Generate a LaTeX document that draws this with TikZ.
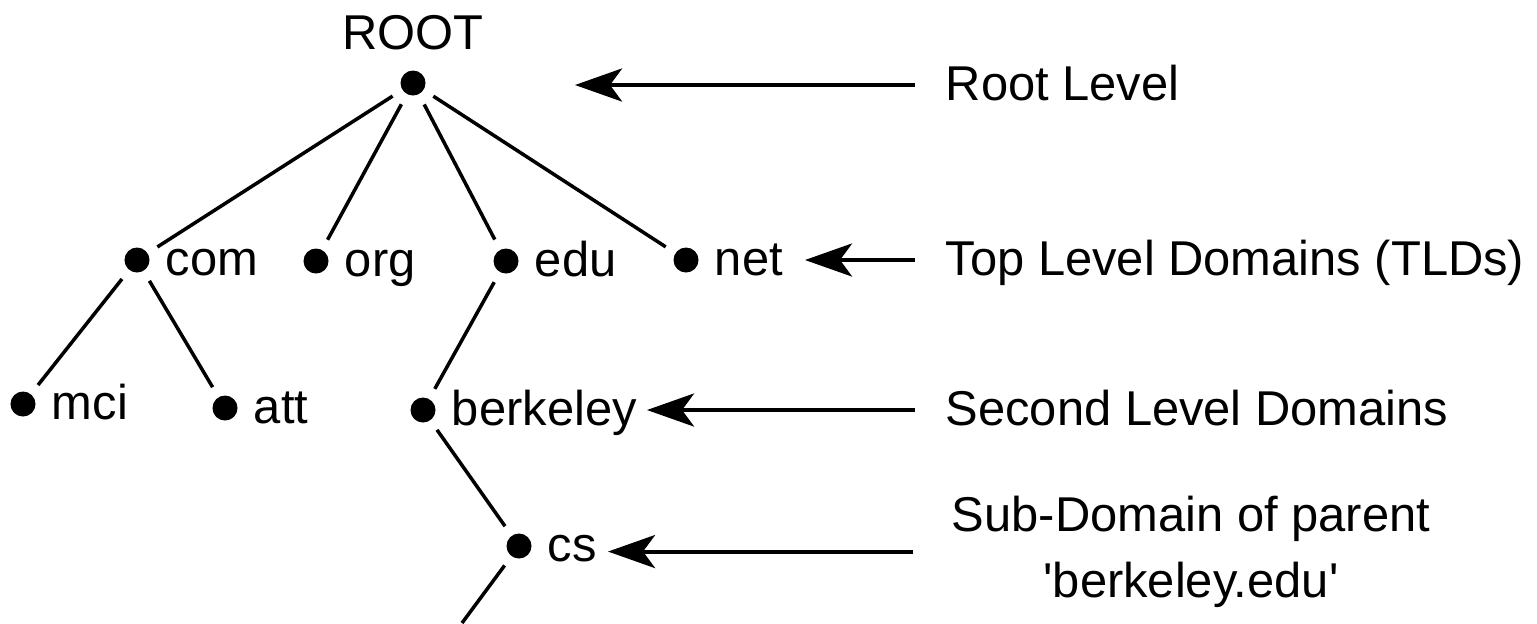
\documentclass[tikz,border=0pt]{standalone}
\usepackage{fontspec}
\setmainfont{Liberation Sans}
\usepackage{tikz}
\usetikzlibrary{arrows.meta,positioning}
\tikzstyle{treedot} = [circle, fill=black, inner sep=0pt, minimum size=0.25cm]
\tikzstyle{lbl} = [inner sep=0pt, text height=0.3cm, text depth=0pt, font=\fontsize{13.9pt}{16pt}\selectfont]
\tikzstyle{branch} = [line width=0.035cm, shorten <=0.11cm, shorten >=0.11cm]
\tikzstyle{lvlarrow} = [line width=0.04cm, -{Stealth[length=0.47cm, width=0.33cm, inset=0.12cm]}, shorten <=0.3cm]

\begin{document}
\begin{tikzpicture}[x=0.01cm, y=-0.01cm]
\useasboundingbox (0,0) rectangle (1537,623);

% Domain tree
\node[treedot] (root) at (413,83) {};
\node[lbl, above=0.2cm of root, anchor=south] (rootlbl) {ROOT};

\node[treedot] (com) at (137,260) {};
\node[treedot] (org) at (316,261) {};
\node[treedot] (edu) at (506,261) {};
\node[treedot] (net) at (686,260) {};
\node[lbl, right=0.15cm of com] (comlbl) {com};
\node[lbl, right=0.15cm of org] (orglbl) {org};
\node[lbl, right=0.15cm of edu] (edulbl) {edu};
\node[lbl, right=0.15cm of net] (netlbl) {net};

\node[treedot] (mci) at (23,404) {};
\node[treedot] (att) at (225,408) {};
\node[treedot] (berkeley) at (423,410) {};
\node[lbl, right=0.15cm of mci] (mcilbl) {mci};
\node[lbl, right=0.15cm of att] (attlbl) {att};
\node[lbl, right=0.15cm of berkeley] (berkeleylbl) {berkeley};

\node[treedot] (cs) at (519,546) {};
\node[lbl, right=0.15cm of cs] (cslbl) {cs};
\coordinate (below) at (462,623);

\foreach \child in {com,org,edu,net} \draw[branch] (root) -- (\child);
\draw[branch] (com) -- (mci);
\draw[branch] (com) -- (att);
\draw[branch] (edu) -- (berkeley);
\draw[branch] (berkeley) -- (cs);
\draw[branch, shorten >=0pt] (cs) -- (below);

% Level names
\node[lbl, anchor=west] (rootlvl) at (945,85) {Root Level};
\node[lbl, anchor=west] (toplvl) at (945,260) {Top Level Domains (TLDs)};
\node[lbl, anchor=west] (secondlvl) at (945,410) {Second Level Domains};
\node[inner sep=0pt, anchor=north, align=center, font=\fontsize{13.9pt}{18.8pt}\selectfont] (sublvl) at (1191,495) {Sub-Domain of parent\\\textquotesingle berkeley.edu\textquotesingle};

\coordinate (roottip) at (575,85);
\coordinate (toptip) at (805,260);
\coordinate (secondtip) at (647,410);
\coordinate (subtip) at (608,546);

\draw[lvlarrow] (rootlvl.west) -- (rootlvl.west -| roottip);
\draw[lvlarrow] (toplvl.west) -- (toplvl.west -| toptip);
\draw[lvlarrow] (secondlvl.west) -- (secondlvl.west -| secondtip);
\draw[lvlarrow, shorten <=0.38cm] (sublvl.west) -- (sublvl.west -| subtip);
\end{tikzpicture}
\end{document}
